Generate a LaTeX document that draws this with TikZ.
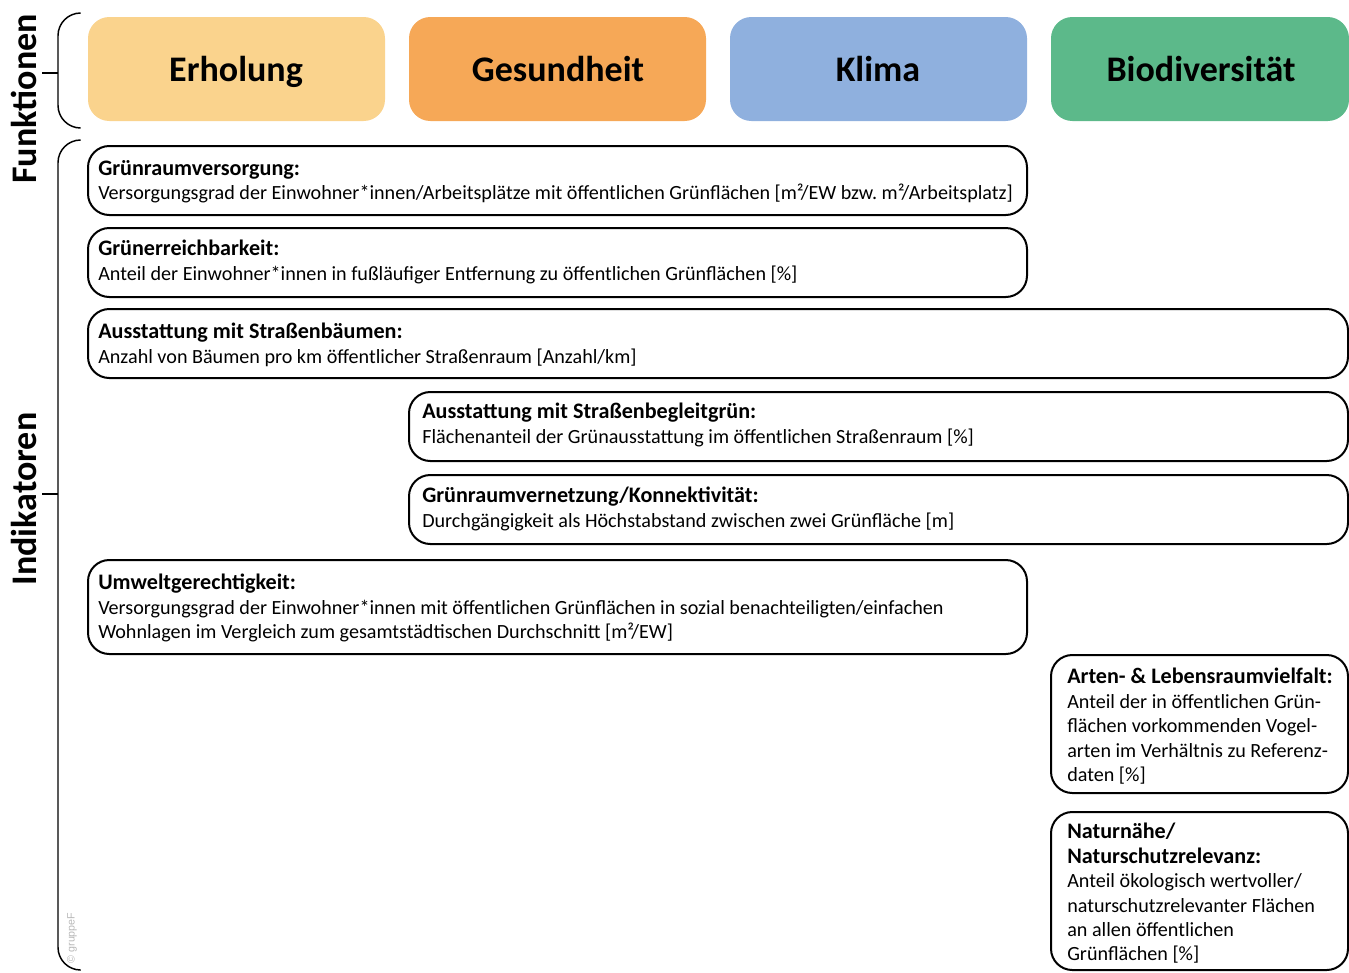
\documentclass[tikz,border=0pt]{standalone}
\usepackage{fontspec}
\setmainfont{Carlito}
\newfontfamily\copyfont{Liberation Sans}
\usetikzlibrary{fit}
\definecolor{cErh}{HTML}{FAD38D}
\definecolor{cGes}{HTML}{F6A857}
\definecolor{cKli}{HTML}{8FB0DE}
\definecolor{cBio}{HTML}{5CB98A}
\newcommand{\ttl}[1]{{\fontsize{16.6}{18.3}\selectfont\bfseries #1}}
\begin{document}
\begin{tikzpicture}[x=0.75pt,y=-0.75pt,
  fbox/.style={rounded corners=16pt, inner sep=0pt, draw=none},
  ftext/.style={font=\fontsize{27}{30}\selectfont\bfseries, inner sep=0pt, anchor=base},
  ibox/.style={draw, line width=1.5pt, rounded corners=16pt, inner sep=0pt},
  itext/.style={anchor=north west, inner sep=0pt, align=left, font=\fontsize{15.1}{18.3}\selectfont},
  brace/.style={line width=1.1pt, rounded corners=17pt},
  tick/.style={line width=1.1pt},
  side/.style={font=\fontsize{27}{30}\selectfont\bfseries, rotate=90, inner sep=0pt}
]
\useasboundingbox (0,0) rectangle (1349,972);

% Function boxes
\node[fbox, fill=cErh, fit={(88,17) (385,121)}] (f1) {};
\node[fbox, fill=cGes, fit={(409,17) (706,121)}] (f2) {};
\node[fbox, fill=cKli, fit={(730,17) (1027,121)}] (f3) {};
\node[fbox, fill=cBio, fit={(1051,17) (1349,121)}] (f4) {};
\node[ftext] (t1) at (236,81) {Erholung};
\node[ftext] (t2) at (558,81) {Gesundheit};
\node[ftext] (t3) at (878,81) {Klima};
\node[ftext] (t4) at (1201,81) {Biodiversität};

% Side labels and braces
\node[side] (lf) at (24,99) {Funktionen};
\node[side] (li) at (24,499) {Indikatoren};
\draw[brace] (80,13) -| (58,73) |- (80,128);
\coordinate (bf) at (58,73);
\coordinate (bfl) at (42,73);
\draw[tick] (bfl) -- (bf);
\draw[brace] (80,140) -| (58,494) |- (80,970);
\coordinate (bi) at (58,494);
\coordinate (bil) at (42,494);
\draw[tick] (bil) -- (bi);
\node[rotate=90, text=black!28, font=\fontsize{8}{9}\selectfont\copyfont, inner sep=0pt] (copy) at (72,938) {© gruppeF};

% Indicator boxes
\node[ibox, fit={(88,146) (1027,215)}] (b1) {};
\node[itext] (x1) at (98,160) {\ttl{Grünraumversorgung:}\\Versorgungsgrad der Einwohner*innen/Arbeitsplätze mit öffentlichen Grünflächen [m²/EW bzw.\ m²/Arbeitsplatz]};

\node[ibox, fit={(88,228) (1027,297)}] (b2) {};
\node[itext] (x2) at (98,240) {\ttl{Grünerreichbarkeit:}\\Anteil der Einwohner*innen in fußläufiger Entfernung zu öffentlichen Grünflächen [\%]};

\node[ibox, fit={(88,309) (1348,378)}] (b3) {};
\node[itext] (x3) at (98,323) {\ttl{Ausstattung mit Straßenbäumen:}\\Anzahl von Bäumen pro km öffentlicher Straßenraum [Anzahl/km]};

\node[ibox, fit={(409,392) (1348,461)}] (b4) {};
\node[itext] (x4) at (422,403) {\ttl{Ausstattung mit Straßenbegleitgrün:}\\Flächenanteil der Grünausstattung im öffentlichen Straßenraum [\%]};

\node[ibox, fit={(409,475) (1348,544)}] (b5) {};
\node[itext] (x5) at (422,487) {\ttl{Grünraumvernetzung/Konnektivität:}\\Durchgängigkeit als Höchstabstand zwischen zwei Grünfläche [m]};

\node[ibox, fit={(88,560) (1027,654)}] (b6) {};
\node[itext] (x6) at (98,574) {\ttl{Umweltgerechtigkeit:}\\Versorgungsgrad der Einwohner*innen mit öffentlichen Grünflächen in sozial benachteiligten/einfachen\\Wohnlagen im Vergleich zum gesamtstädtischen Durchschnitt [m²/EW]};

\node[ibox, fit={(1051,655) (1348,793)}] (b7) {};
\node[itext] (x7) at (1067,668) {\ttl{Arten- \& Lebensraumvielfalt:}\\Anteil der in öffentlichen Grün-\\flächen vorkommenden Vogel-\\arten im Verhältnis zu Referenz-\\daten [\%]};

\node[ibox, fit={(1051,812) (1348,970)}] (b8) {};
\node[itext] (x8) at (1067,823) {\ttl{Naturnähe/}\\\ttl{Naturschutzrelevanz:}\\Anteil ökologisch wertvoller/\\naturschutzrelevanter Flächen\\an allen öffentlichen\\Grünflächen [\%]};
\end{tikzpicture}
\end{document}
